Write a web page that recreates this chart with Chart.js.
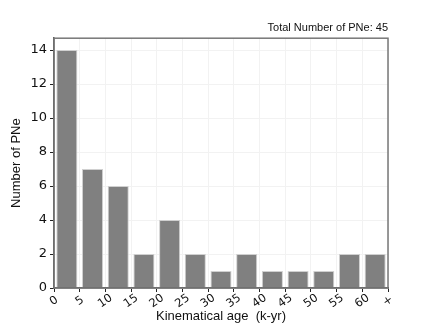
<!DOCTYPE html>
<html>
<head>
<meta charset="utf-8">
<script src="https://cdn.jsdelivr.net/npm/chart.js@4/dist/chart.umd.min.js"></script>
<style>
  html, body { margin: 0; padding: 0; background: #fff; }
  #wrap { width: 432px; height: 324px; }
</style>
</head>
<body>
<div id="wrap"><canvas id="ageChart" width="432" height="324"></canvas></div>
<script>
// bin edges in k-yr, last bin is open ("+")
const edgeLabels = ["0", "5", "10", "15", "20", "25", "30", "35", "40", "45", "50", "55", "60", "+"];
const counts = [14, 7, 6, 2, 4, 2, 1, 2, 1, 1, 1, 2, 2];
const yTicks = [0, 2, 4, 6, 8, 10, 12, 14];
const totalPNe = 45;

// frame around the plot area + centred, rotated edge labels (matplotlib style)
const framePlugin = {
  id: "frame",
  afterDraw(chart) {
    const a = chart.chartArea;
    const c = chart.ctx;
    const xs = chart.scales.x;
    c.save();
    c.strokeStyle = "#777";
    c.lineWidth = 1.5;
    c.strokeRect(a.left, a.top, a.right - a.left, a.bottom - a.top);

    c.fillStyle = "#111";
    c.font = "11.5px 'DejaVu Sans'";
    c.textAlign = "center";
    c.textBaseline = "middle";
    edgeLabels.forEach((lab, i) => {
      c.save();
      c.translate(xs.getPixelForValue(i), a.bottom + 13);
      c.rotate(-35 * Math.PI / 180);
      c.fillText(lab, 0, 0);
      c.restore();
    });
    c.restore();
  }
};

const ctx = document.getElementById("ageChart").getContext("2d");
new Chart(ctx, {
  type: "bar",
  data: {
    datasets: [{
      label: "PNe",
      data: counts.map((v, i) => ({ x: i + 0.5, y: v })),
      backgroundColor: "#808080",
      borderColor: "#d0d0d0",
      borderWidth: 1,
      barPercentage: 0.82,
      categoryPercentage: 1.0
    }]
  },
  options: {
    responsive: false,
    animation: false,
    layout: { padding: { left: 0, right: 44, top: 0, bottom: 0 } },
    plugins: {
      legend: { display: false },
      tooltip: { enabled: false },
      title: {
        display: true,
        text: "Total Number of PNe: " + totalPNe,
        align: "end",
        color: "#111",
        font: { family: "Liberation Sans", size: 11, weight: "normal" },
        padding: { top: 21, bottom: 4 }
      }
    },
    scales: {
      x: {
        type: "linear",
        offset: false,
        min: 0,
        max: edgeLabels.length - 1,
        grid: { offset: false, color: "#f2f2f2", tickColor: "#222", tickLength: 4 },
        border: { color: "#555", width: 1.5 },
        afterBuildTicks: (scale) => {
          scale.ticks = edgeLabels.map((_, i) => ({ value: i }));
        },
        afterFit: (scale) => { scale.height = 36; },
        ticks: { display: false, autoSkip: false },
        title: {
          display: true,
          text: "Kinematical age  (k-yr)",
          color: "#111",
          font: { family: "Liberation Sans", size: 13 },
          padding: { top: 0, bottom: 0 }
        }
      },
      y: {
        min: 0,
        max: 14.7,
        grid: { color: "#f2f2f2", tickColor: "#222", tickLength: 4 },
        border: { color: "#555", width: 1.5 },
        afterBuildTicks: (scale) => {
          scale.ticks = yTicks.map(v => ({ value: v }));
        },
        afterFit: (scale) => { scale.width = 54; },
        ticks: {
          color: "#111",
          padding: 3,
          font: { family: "DejaVu Sans", size: 13 }
        },
        title: {
          display: true,
          text: "Number of PNe",
          color: "#111",
          font: { family: "Liberation Sans", size: 13 },
          padding: { top: 9, bottom: 4 }
        }
      }
    }
  },
  plugins: [framePlugin]
});
</script>
</body>
</html>
